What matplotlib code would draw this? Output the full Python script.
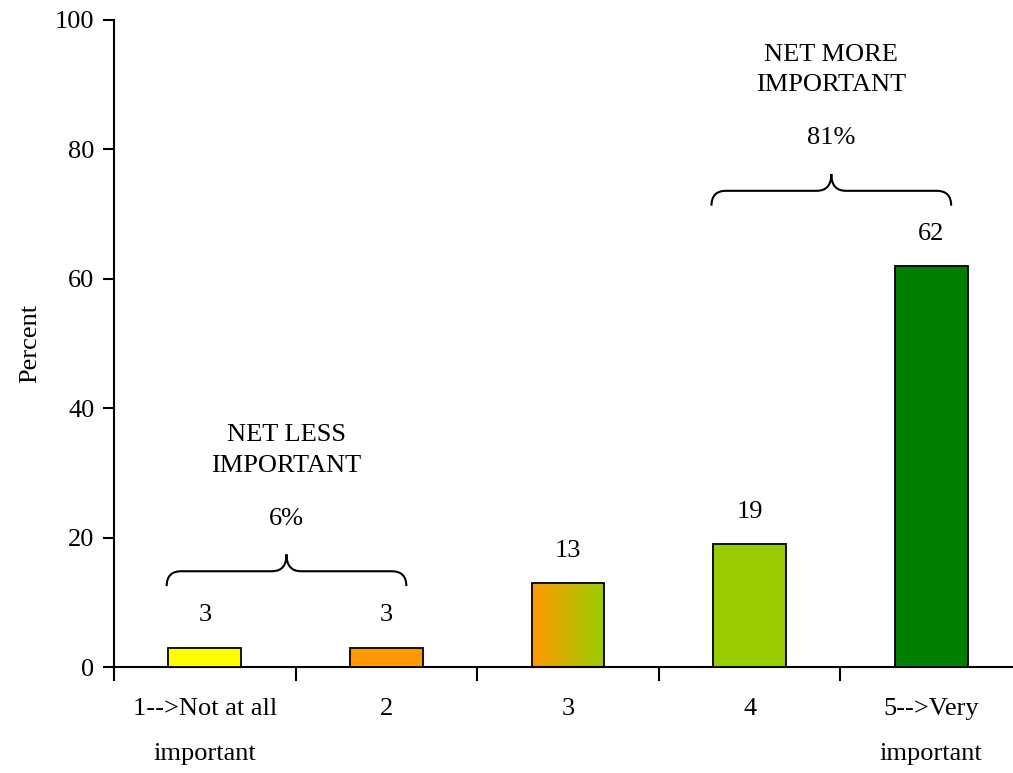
import numpy as np
import matplotlib.pyplot as plt
from matplotlib.path import Path
from matplotlib.patches import PathPatch
from matplotlib.colors import LinearSegmentedColormap

categories = ["1-->Not at all\nimportant", "2", "3", "4", "5-->Very\nimportant"]
values = [3, 3, 13, 19, 62]
bar_colors = ["#FFFF00", "#FF9900", None, "#99CC00", "#008000"]
gradient_colors = ["#FF9900", "#99CC00"]

# net groups: (label, percent, first bar, last bar, brace base)
net_less = ("NET LESS\nIMPORTANT", "6%", 0, 1, 12.5)
net_more = ("NET MORE\nIMPORTANT", "81%", 3, 4, 71.3)

plt.rcParams['font.family'] = ['Liberation Serif', 'DejaVu Serif']
FS = 19

fig = plt.figure(figsize=(10.13, 7.73), dpi=100)
ax = fig.add_axes([114 / 1013, 106 / 773, 908 / 1013, 647 / 773])

x = np.arange(len(values))
bars = ax.bar(x, values, width=0.4, color=[c if c else "none" for c in bar_colors],
              edgecolor="black", linewidth=1.3, zorder=3)

# gradient bar for category 3
gb = bars[2]
cmap = LinearSegmentedColormap.from_list("og", gradient_colors)
img = ax.imshow(np.linspace(0, 1, 256).reshape(1, -1), cmap=cmap, aspect="auto",
                extent=[gb.get_x(), gb.get_x() + gb.get_width(), 0, gb.get_height()],
                zorder=2)
img.set_clip_path(gb)

for xi, v in zip(x, values):
    ax.text(xi, v + 5, str(v), ha="center", va="center", fontsize=FS)


def brace(ax, x0, x1, yb, yf, yt, r):
    xm = (x0 + x1) / 2
    verts = [(x0, yb), (x0, yf), (x0 + r, yf), (xm - r, yf), (xm, yf), (xm, yt),
             (xm, yf), (xm + r, yf), (x1 - r, yf), (x1, yf), (x1, yb)]
    codes = [Path.MOVETO, Path.CURVE3, Path.CURVE3, Path.LINETO, Path.CURVE3, Path.CURVE3,
             Path.CURVE3, Path.CURVE3, Path.LINETO, Path.CURVE3, Path.CURVE3]
    ax.add_patch(PathPatch(Path(verts, codes), facecolor="none", edgecolor="black",
                           linewidth=1.5, clip_on=False))
    return xm


for label, pct, i0, i1, yb in [net_less, net_more]:
    x0 = x[i0] - 0.21
    x1 = x[i1] + 0.11
    xm = brace(ax, x0, x1, yb, yb + 2.3, yb + 4.9, 0.08)
    ax.text(xm, yb + 10.4, pct, ha="center", va="center", fontsize=FS)
    ax.text(xm, yb + 21, label, ha="center", va="center", fontsize=FS, linespacing=1.5)

ax.set_xlim(-0.5, 4.5)
ax.set_ylim(0, 100)
ax.set_yticks([0, 20, 40, 60, 80, 100])
ax.tick_params(axis="y", direction="out", length=8, width=1.5, labelsize=FS, pad=6)

ax.set_xticks(np.arange(-0.5, 4.5, 1.0))
ax.set_xticklabels([])
ax.tick_params(axis="x", which="major", direction="out", length=10, width=1.5)
ax.set_xticks(x, minor=True)
ax.set_xticklabels(categories, minor=True, fontsize=FS, linespacing=2.35)
ax.tick_params(axis="x", which="minor", length=0, pad=22)

ax.set_ylabel("Percent", fontsize=FS, labelpad=10)
ax.spines["top"].set_visible(False)
ax.spines["right"].set_visible(False)
ax.spines["left"].set_linewidth(1.5)
ax.spines["bottom"].set_linewidth(1.5)

fig.savefig("out.png", dpi=100)
